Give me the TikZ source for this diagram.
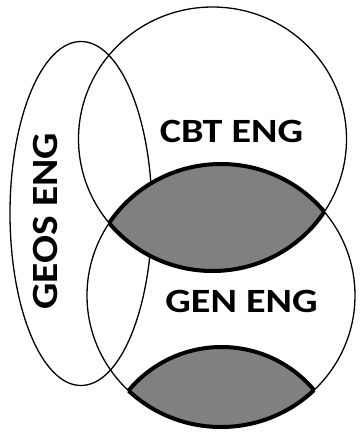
\documentclass[tikz,border=0pt]{standalone}
\usepackage{fontspec}
\setmainfont{Carlito}
\begin{document}
\begin{tikzpicture}[x=1pt,y=-1pt,
  thin line/.style={line width=1.3pt, black},
  lens fill/.style={fill={rgb,255:red,128;green,128;blue,128}},
  lens line/.style={line width=4pt, black},
  label/.style={font=\fontsize{34}{40}\selectfont\bfseries, inner sep=0pt},
  vlabel/.style={font=\fontsize{37}{44}\selectfont\bfseries, inner sep=0pt, rotate=90}]
\useasboundingbox (0,0) rectangle (362,432);
\coordinate (topc) at (212.5,139);
\coordinate (botc) at (221,295.5);
\coordinate (geosc) at (81,213.5);
\coordinate (mirc) at (221.5,468);
\def\topell{(topc) ellipse [x radius=134pt, y radius=132pt]}
\def\botell{(botc) ellipse [x radius=134pt, y radius=131.5pt]}
% thin outlines
\draw[thin line] \topell;
\draw[thin line] \botell;
\draw[thin line] (geosc) ellipse [x radius=71pt, y radius=172pt];
% lens fills
\begin{scope}
  \clip \botell;
  \fill[lens fill] \topell;
  \fill[lens fill] (mirc) circle [radius=121pt];
\end{scope}
% thick lens borders
\begin{scope}
  \clip \botell;
  \draw[lens line] \topell;
  \draw[lens line] (mirc) circle [radius=121pt];
\end{scope}
\begin{scope}
  \clip \topell;
  \draw[lens line] \botell;
\end{scope}
\begin{scope}
  \clip (mirc) circle [radius=121pt];
  \draw[lens line] \botell;
\end{scope}
% labels
\node[label] (cbt) at (231.5,131) {\scalebox{1.18}[1]{CBT ENG}};
\node[label] (gen) at (241.5,301) {\scalebox{1.18}[1]{GEN ENG}};
\node[vlabel] (geos) at (45.5,221) {\scalebox{1.12}[1]{GEOS ENG}};
\end{tikzpicture}
\end{document}
